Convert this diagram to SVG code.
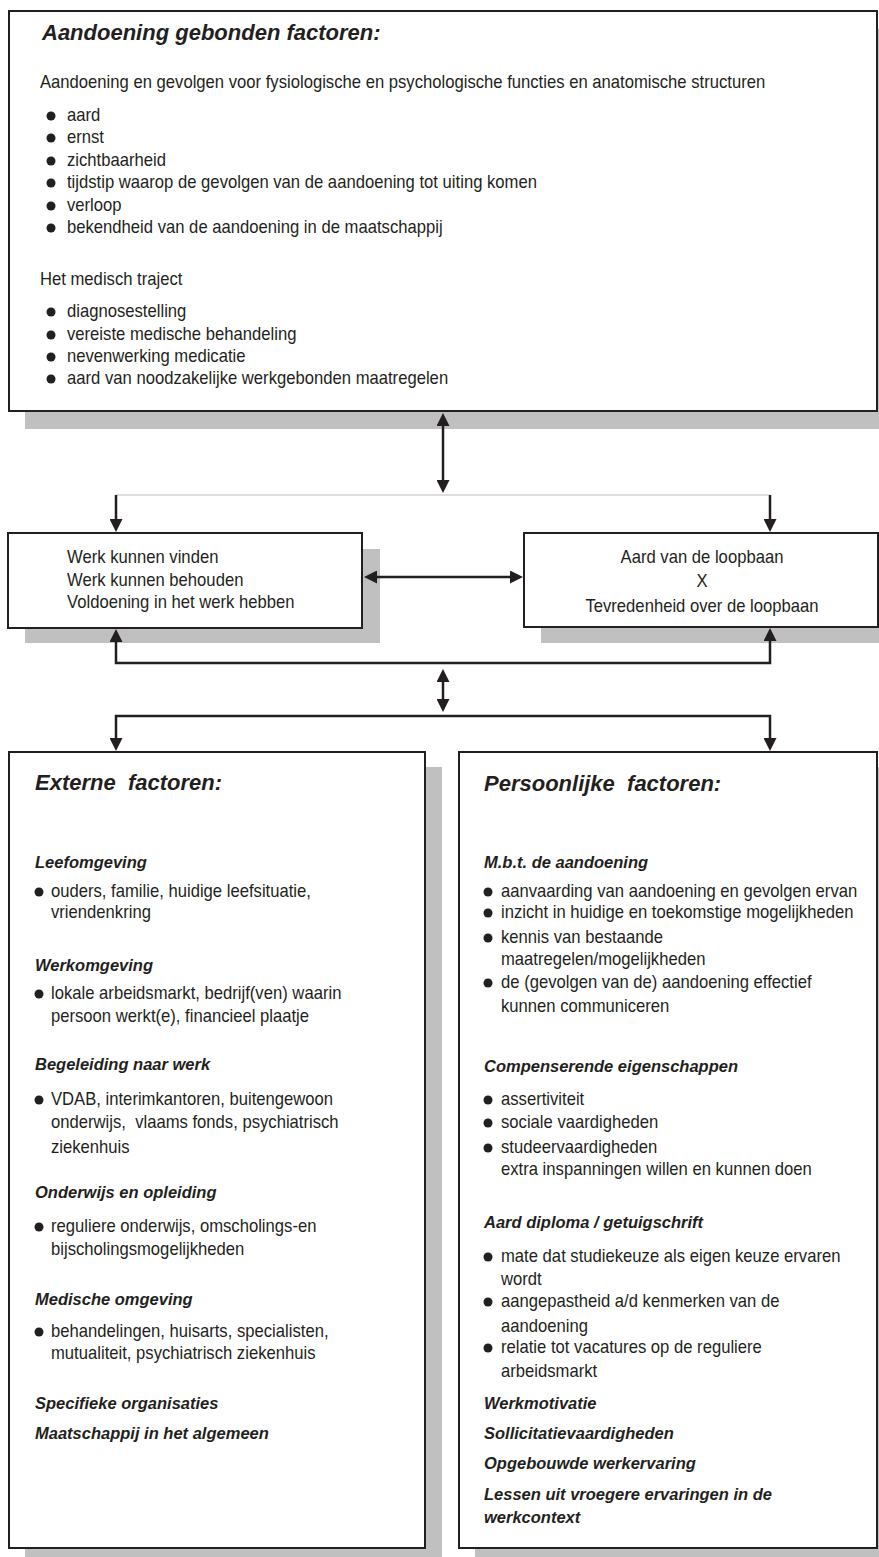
<svg xmlns="http://www.w3.org/2000/svg" width="879" height="1557" viewBox="0 0 879 1557">
<style>
.shadow{fill:#c0c0c0}
.box{fill:#fff;stroke:#231f20;stroke-width:2}
.t{font-family:"Liberation Sans",Arial,sans-serif;font-size:18px;fill:#231f20;transform-box:fill-box;transform-origin:0% 50%;transform:scaleX(0.925)}
.c{text-anchor:middle;transform-origin:50% 50%}
.h1{font-family:"Liberation Sans",Arial,sans-serif;font-weight:bold;font-style:italic;font-size:22px;fill:#231f20}
.h2{font-family:"Liberation Sans",Arial,sans-serif;font-weight:bold;font-style:italic;font-size:16.5px;fill:#231f20}
.b{fill:#231f20}
.ln{fill:none;stroke:#231f20;stroke-width:2.5}
.thin{fill:none;stroke:#bdbdbd;stroke-width:1.2}
</style>
<defs>
<marker id="ah" viewBox="0 0 13 13" refX="7" refY="6.5" markerWidth="13" markerHeight="13" markerUnits="userSpaceOnUse" orient="auto-start-reverse">
<path d="M0,0 L13,6.5 L0,13 Z" fill="#231f20"/>
</marker>
</defs>

<g id="node-aandoening">
<rect class="shadow" x="25" y="29" width="870" height="400"/>
<rect class="box" x="9" y="11" width="868" height="400"/>
<text class="h1" x="42" y="40">Aandoening gebonden factoren:</text>
<text class="t" x="40" y="88">Aandoening en gevolgen voor fysiologische en psychologische functies en anatomische structuren</text>
<circle class="b" cx="51" cy="116" r="4.5"/><text class="t" x="67" y="121">aard</text>
<circle class="b" cx="51" cy="138" r="4.5"/><text class="t" x="67" y="143">ernst</text>
<circle class="b" cx="51" cy="161" r="4.5"/><text class="t" x="67" y="166">zichtbaarheid</text>
<circle class="b" cx="51" cy="183" r="4.5"/><text class="t" x="67" y="188">tijdstip waarop de gevolgen van de aandoening tot uiting komen</text>
<circle class="b" cx="51" cy="206" r="4.5"/><text class="t" x="67" y="211">verloop</text>
<circle class="b" cx="51" cy="228" r="4.5"/><text class="t" x="67" y="233">bekendheid van de aandoening in de maatschappij</text>
<text class="t" x="40" y="285">Het medisch traject</text>
<circle class="b" cx="51" cy="312" r="4.5"/><text class="t" x="67" y="317">diagnosestelling</text>
<circle class="b" cx="51" cy="335" r="4.5"/><text class="t" x="67" y="340">vereiste medische behandeling</text>
<circle class="b" cx="51" cy="357" r="4.5"/><text class="t" x="67" y="362">nevenwerking medicatie</text>
<circle class="b" cx="51" cy="379" r="4.5"/><text class="t" x="67" y="384">aard van noodzakelijke werkgebonden maatregelen</text>
</g>

<g id="node-werk">
<rect class="shadow" x="25" y="549" width="355" height="94"/>
<rect class="box" x="8" y="533" width="354" height="95"/>
<text class="t" x="67" y="563">Werk kunnen vinden</text>
<text class="t" x="67" y="586">Werk kunnen behouden</text>
<text class="t" x="67" y="608">Voldoening in het werk hebben</text>
</g>

<g id="node-loopbaan">
<rect class="shadow" x="541" y="549" width="350" height="94"/>
<rect class="box" x="524" y="533" width="354" height="94"/>
<text class="t c" x="702" y="563">Aard van de loopbaan</text>
<text class="t c" x="702" y="587">X</text>
<text class="t c" x="702" y="612">Tevredenheid over de loopbaan</text>
</g>

<g id="node-extern">
<rect class="shadow" x="25" y="767" width="417" height="800"/>
<rect class="box" x="9" y="752" width="416" height="796"/>
<text class="h1" x="35" y="790" xml:space="preserve">Externe  factoren:</text>
<text class="h2" x="35" y="868">Leefomgeving</text>
<circle class="b" cx="39" cy="892" r="4.5"/><text class="t" x="51" y="897">ouders, familie, huidige leefsituatie,</text>
<text class="t" x="51" y="918">vriendenkring</text>
<text class="h2" x="35" y="971">Werkomgeving</text>
<circle class="b" cx="39" cy="994" r="4.5"/><text class="t" x="51" y="999">lokale arbeidsmarkt, bedrijf(ven) waarin</text>
<text class="t" x="51" y="1022">persoon werkt(e), financieel plaatje</text>
<text class="h2" x="35" y="1070">Begeleiding naar werk</text>
<circle class="b" cx="39" cy="1100" r="4.5"/><text class="t" x="51" y="1105">VDAB, interimkantoren, buitengewoon</text>
<text class="t" x="51" y="1128" xml:space="preserve">onderwijs,  vlaams fonds, psychiatrisch</text>
<text class="t" x="51" y="1153">ziekenhuis</text>
<text class="h2" x="35" y="1198">Onderwijs en opleiding</text>
<circle class="b" cx="39" cy="1227" r="4.5"/><text class="t" x="51" y="1232">reguliere onderwijs, omscholings-en</text>
<text class="t" x="51" y="1255">bijscholingsmogelijkheden</text>
<text class="h2" x="35" y="1305">Medische omgeving</text>
<circle class="b" cx="39" cy="1332" r="4.5"/><text class="t" x="51" y="1337">behandelingen, huisarts, specialisten,</text>
<text class="t" x="51" y="1359">mutualiteit, psychiatrisch ziekenhuis</text>
<text class="h2" x="35" y="1409">Specifieke organisaties</text>
<text class="h2" x="35" y="1439">Maatschappij in het algemeen</text>
</g>

<g id="node-persoonlijk">
<rect class="shadow" x="475" y="767" width="420" height="800"/>
<rect class="box" x="459" y="752" width="418" height="796"/>
<text class="h1" x="484" y="791" xml:space="preserve">Persoonlijke  factoren:</text>
<text class="h2" x="484" y="868">M.b.t. de aandoening</text>
<circle class="b" cx="488" cy="892" r="4.5"/><text class="t" x="501" y="897">aanvaarding van aandoening en gevolgen ervan</text>
<circle class="b" cx="488" cy="913" r="4.5"/><text class="t" x="501" y="918">inzicht in huidige en toekomstige mogelijkheden</text>
<circle class="b" cx="488" cy="938" r="4.5"/><text class="t" x="501" y="943">kennis van bestaande</text>
<text class="t" x="501" y="965">maatregelen/mogelijkheden</text>
<circle class="b" cx="488" cy="983" r="4.5"/><text class="t" x="501" y="988">de (gevolgen van de) aandoening effectief</text>
<text class="t" x="501" y="1012">kunnen communiceren</text>
<text class="h2" x="484" y="1072">Compenserende eigenschappen</text>
<circle class="b" cx="488" cy="1100" r="4.5"/><text class="t" x="501" y="1105">assertiviteit</text>
<circle class="b" cx="488" cy="1123" r="4.5"/><text class="t" x="501" y="1128">sociale vaardigheden</text>
<circle class="b" cx="488" cy="1148" r="4.5"/><text class="t" x="501" y="1153">studeervaardigheden</text>
<text class="t" x="501" y="1175">extra inspanningen willen en kunnen doen</text>
<text class="h2" x="484" y="1228">Aard diploma / getuigschrift</text>
<circle class="b" cx="488" cy="1257" r="4.5"/><text class="t" x="501" y="1262">mate dat studiekeuze als eigen keuze ervaren</text>
<text class="t" x="501" y="1285">wordt</text>
<circle class="b" cx="488" cy="1302" r="4.5"/><text class="t" x="501" y="1307">aangepastheid a/d kenmerken van de</text>
<text class="t" x="501" y="1332">aandoening</text>
<circle class="b" cx="488" cy="1348" r="4.5"/><text class="t" x="501" y="1353">relatie tot vacatures op de reguliere</text>
<text class="t" x="501" y="1377">arbeidsmarkt</text>
<text class="h2" x="484" y="1409">Werkmotivatie</text>
<text class="h2" x="484" y="1439">Sollicitatievaardigheden</text>
<text class="h2" x="484" y="1469">Opgebouwde werkervaring</text>
<text class="h2" x="484" y="1500">Lessen uit vroegere ervaringen in de</text>
<text class="h2" x="484" y="1523">werkcontext</text>
</g>

<g id="connectors">
<line class="ln" x1="443" y1="419" x2="443" y2="487" marker-start="url(#ah)" marker-end="url(#ah)"/>
<line class="thin" x1="116" y1="495" x2="770" y2="495"/>
<line class="ln" x1="116" y1="495" x2="116" y2="526" marker-end="url(#ah)"/>
<line class="ln" x1="770" y1="495" x2="770" y2="526" marker-end="url(#ah)"/>
<line class="ln" x1="370" y1="577" x2="517" y2="577" marker-start="url(#ah)" marker-end="url(#ah)"/>
<path class="ln" d="M116,635 V663 H770 V634" marker-start="url(#ah)" marker-end="url(#ah)"/>
<line class="ln" x1="443" y1="675" x2="443" y2="706" marker-start="url(#ah)" marker-end="url(#ah)"/>
<path class="ln" d="M116,745 V716 H770 V745" marker-start="url(#ah)" marker-end="url(#ah)"/>
</g>
</svg>
